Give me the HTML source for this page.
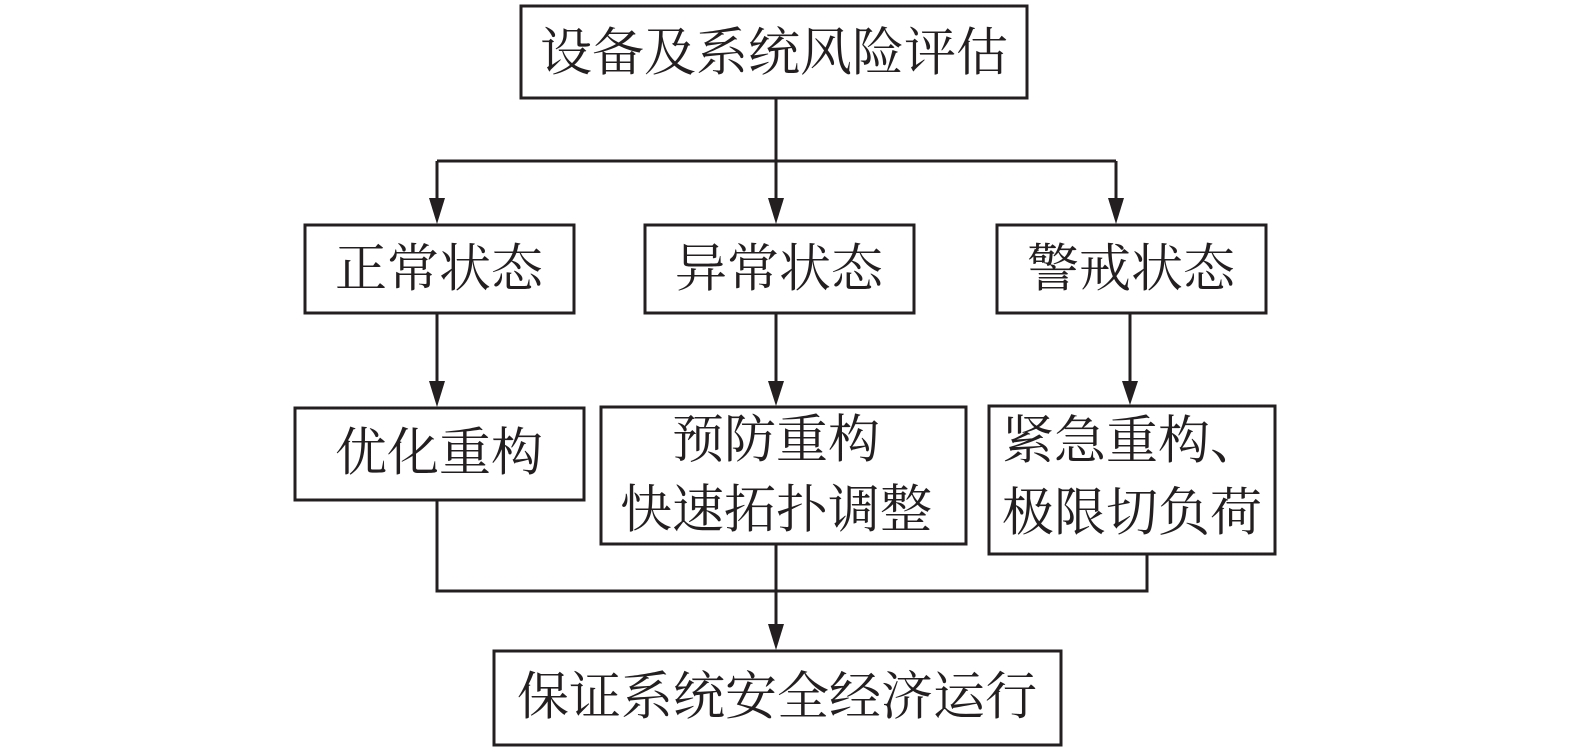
<!DOCTYPE html>
<html><head><meta charset="utf-8"><style>
html,body{margin:0;padding:0;background:#fff;}
svg{display:block;}
text{font-family:"Liberation Serif","Noto Serif CJK SC",serif;font-size:52px;fill:#231f20;text-anchor:middle;dominant-baseline:central;}
</style></head><body>
<svg width="1575" height="752" viewBox="0 0 1575 752" xmlns="http://www.w3.org/2000/svg">
<g fill="none" stroke="#231f20" stroke-width="3">
<rect x="521" y="6" width="506" height="92"/>
<rect x="305" y="225" width="269" height="88"/>
<rect x="645" y="225" width="269" height="88"/>
<rect x="997" y="225" width="269" height="88"/>
<rect x="295" y="408" width="289" height="92"/>
<rect x="601" y="407" width="365" height="137"/>
<rect x="989" y="406" width="286" height="148"/>
<rect x="494" y="651" width="567" height="94"/>
<path d="M776 98 V200 M437 161 H1116 M437 161 V200 M1116 161 V200"/>
<path d="M437 313 V383 M776 313 V383 M1130 313 V383"/>
<path d="M437 500 V591 H1147 V554 M776 544 V626"/>
</g>
<g fill="#231f20">
<polygon points="429,198 445,198 437,224"/>
<polygon points="768,198 784,198 776,224"/>
<polygon points="1108,198 1124,198 1116,224"/>
<polygon points="429,381 445,381 437,407"/>
<polygon points="768,381 784,381 776,406"/>
<polygon points="1122,381 1138,381 1130,405"/>
<polygon points="768,624 784,624 776,650"/>
</g>
<text x="774" y="54">设备及系统风险评估</text>
<text x="439" y="270">正常状态</text>
<text x="779" y="270">异常状态</text>
<text x="1131" y="270">警戒状态</text>
<text x="439" y="454">优化重构</text>
<text x="776" y="441">预防重构</text>
<text x="776" y="511">快速拓扑调整</text>
<text x="1132" y="442">紧急重构、</text>
<text x="1132" y="514">极限切负荷</text>
<text x="777" y="698">保证系统安全经济运行</text>
</svg>
</body></html>
